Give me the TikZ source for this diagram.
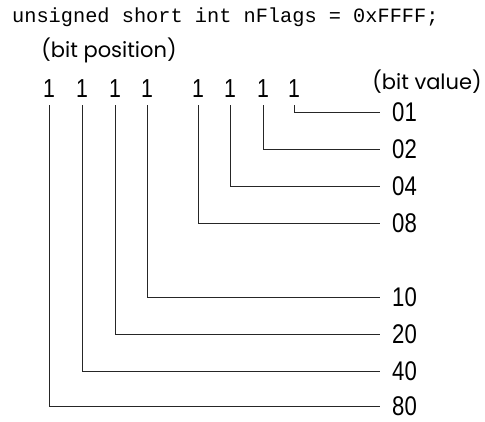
\documentclass[tikz,border=0pt]{standalone}
\usepackage{fontspec}
\setmainfont{Liberation Sans}
\newfontfamily\codefont{Liberation Mono}
\newfontfamily\thinfont{Poppins}
\newfontfamily\narrowfont[FakeStretch=0.82]{Liberation Sans}
\usetikzlibrary{positioning}
\tikzset{
  bit/.style={font=\narrowfont\fontsize{26}{26}\selectfont, inner sep=0pt, anchor=base},
  val/.style={font=\narrowfont\fontsize{27}{27}\selectfont, inner sep=0pt, anchor=west},
  note/.style={font=\thinfont\fontsize{21}{21}\selectfont, inner sep=0pt},
  wire/.style={line width=1pt, black!85, shorten <=8pt, shorten >=12pt}
}

\begin{document}
\begin{tikzpicture}[x=1pt, y=-1pt]
  \useasboundingbox (0,0) rectangle (485,421);
  \node[font=\codefont\fontsize{20.3}{20.3}\selectfont, inner sep=0pt, anchor=west] (decl) at (12,17) {unsigned short int nFlags = 0xFFFF;};
  \node[note] (pos) at (109,50) {(bit position)};
  \node[note] (valtitle) at (427,82) {(bit value)};
  % eight bits, high to low
  \foreach \n/\x in {7/49,6/82,5/115,4/147,3/198,2/230,1/263,0/294}
    \node[bit] (b\n) at (\x,97) {1};
  \foreach \n/\v/\y in {0/01/112,1/02/149,2/04/186,3/08/223,4/10/297,5/20/334,6/40/371,7/80/406}{
    \node[val] (v\v) at (392,\y) {\v};
    \draw[wire] (b\n.south) |- (v\v.west);
  }
\end{tikzpicture}
\end{document}
